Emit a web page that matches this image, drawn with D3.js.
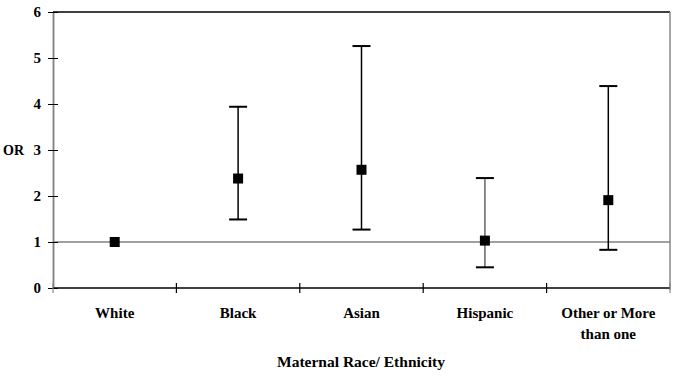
<!DOCTYPE html>
<meta charset="utf-8">
<svg width="683" height="377"></svg>
<script src="https://d3js.org/d3.v7.min.js"></script>
<style>
  body { margin: 0; background: #fff; }
  * { font-family: 'Liberation Serif', 'Times New Roman', serif; font-weight: bold; }
</style>
<script>
var categories = ["White", "Black", "Asian", "Hispanic", "Other or More than one"];
var labelLines = [["White"], ["Black"], ["Asian"], ["Hispanic"], ["Other or More", "than one"]];
var orValues = [1.0, 2.38, 2.57, 1.03, 1.91];
var lowerCI = [null, 1.49, 1.27, 0.45, 0.83];
var upperCI = [null, 3.94, 5.26, 2.39, 4.39];
var yTicks = [0, 1, 2, 3, 4, 5, 6];

var svg = d3.select("svg"),
    margin = {top: 12, right: 13, bottom: 89, left: 53},
    width = +svg.attr("width") - margin.left - margin.right,
    height = +svg.attr("height") - margin.top - margin.bottom,
    g = svg.append("g").attr("transform", "translate(" + margin.left + "," + margin.top + ")");

var x = d3.scaleBand().domain(categories).range([0, width]).padding(0);
var y = d3.scaleLinear().domain([0, 6]).range([height, 0]);

// frame: top black, right grey
g.append("line").attr("x1", 0).attr("x2", width).attr("y1", 0).attr("y2", 0)
    .attr("stroke", "#000").attr("stroke-width", 1.3);
g.append("line").attr("x1", width).attr("x2", width).attr("y1", 0).attr("y2", height + 2)
    .attr("stroke", "#888").attr("stroke-width", 1.5);

// reference line at OR = 1
g.append("line").attr("x1", 0).attr("x2", width).attr("y1", y(1)).attr("y2", y(1))
    .attr("stroke", "#808080").attr("stroke-width", 1.6);

// y axis
var yAxis = g.append("g")
    .call(d3.axisLeft(y).tickValues(yTicks).tickFormat(d3.format("d"))
      .tickSizeInner(5).tickSizeOuter(0).tickPadding(7));
yAxis.select(".domain").attr("stroke", "#808080").attr("stroke-width", 1.8);
yAxis.selectAll(".tick line").attr("x2", 5).attr("x1", -5).attr("stroke", "#000");
yAxis.selectAll(".tick text").style("font-size", "15px").attr("fill", "#000");

svg.append("text").attr("x", 3).attr("y", margin.top + y(3) + 5)
    .style("font-size", "14px").text("OR");

// x axis line and boundary ticks
g.append("line").attr("x1", 0).attr("x2", width).attr("y1", height).attr("y2", height)
    .attr("stroke", "#000").attr("stroke-width", 1.3);
var bounds = d3.range(categories.length + 1).map(function(i) { return i * x.step(); });
g.selectAll(".bt").data(bounds).enter().append("line")
    .attr("x1", function(d) { return d; }).attr("x2", function(d) { return d; })
    .attr("y1", height - 5).attr("y2", height + 5)
    .attr("stroke", function(d, i) { return (i === 0 || i === categories.length) ? "#888" : "#000"; })
    .attr("stroke-width", 1.2);

// category labels
var lab = g.selectAll(".cat").data(categories).enter().append("text")
    .attr("text-anchor", "middle")
    .attr("transform", function(d) { return "translate(" + (x(d) + x.bandwidth() / 2) + "," + (height + 30) + ")"; })
    .style("font-size", "15px");
lab.each(function(d, i) {
  var t = d3.select(this);
  labelLines[i].forEach(function(s, j) {
    t.append("tspan").attr("x", 0).attr("dy", j === 0 ? 0 : 21).text(s);
  });
});

svg.append("text").attr("x", margin.left + width / 2 - 0.5).attr("y", 367)
    .attr("text-anchor", "middle").style("font-size", "15.5px").text("Maternal Race/ Ethnicity");

// error bars
var rows = categories.map(function(c, i) {
  return {cat: c, or: orValues[i], lo: lowerCI[i], hi: upperCI[i], grey: c === "Hispanic"};
});
var cx = function(d) { return x(d.cat) + x.bandwidth() / 2; };
var eb = rows.filter(function(d) { return d.lo !== null; });
var capW = 9;
g.selectAll(".eb").data(eb).enter().append("line")
    .attr("x1", cx).attr("x2", cx)
    .attr("y1", function(d) { return y(d.lo); }).attr("y2", function(d) { return y(d.hi); })
    .attr("stroke", function(d) { return d.grey ? "#666" : "#000"; }).attr("stroke-width", 1.5);
["lo", "hi"].forEach(function(k) {
  g.selectAll(".cap" + k).data(eb).enter().append("line")
      .attr("x1", function(d) { return cx(d) - capW; }).attr("x2", function(d) { return cx(d) + capW; })
      .attr("y1", function(d) { return y(d[k]); }).attr("y2", function(d) { return y(d[k]); })
      .attr("stroke", "#000").attr("stroke-width", 2);
});

// markers
var ms = 10;
g.selectAll(".pt").data(rows).enter().append("rect")
    .attr("x", function(d) { return cx(d) - ms / 2; })
    .attr("y", function(d) { return y(d.or) - ms / 2; })
    .attr("width", ms).attr("height", ms).attr("fill", "#000");
</script>
